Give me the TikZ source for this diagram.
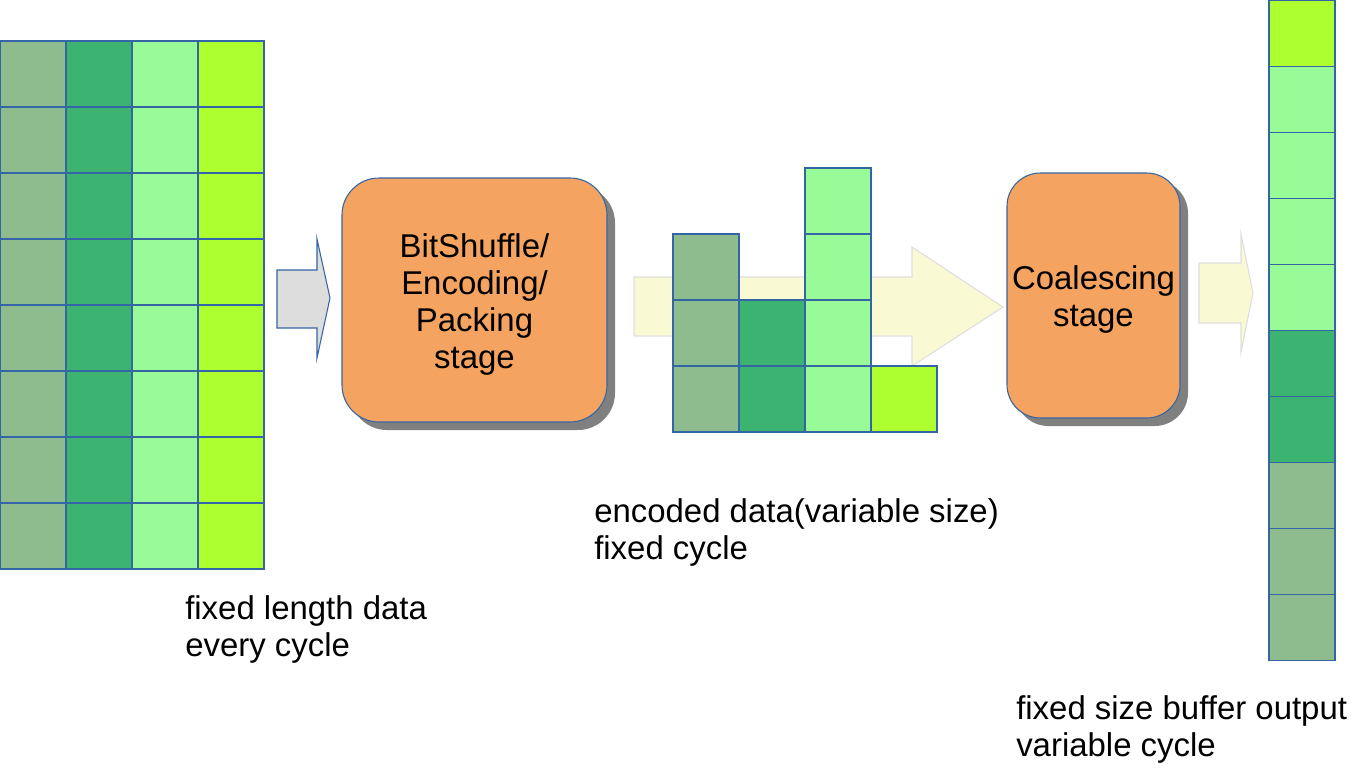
\documentclass[tikz,border=0pt]{standalone}
\usepackage{fontspec}
\setmainfont{Liberation Sans}
\definecolor{cA}{HTML}{8FBC8F}
\definecolor{cB}{HTML}{3CB371}
\definecolor{cC}{HTML}{98FB98}
\definecolor{cD}{HTML}{ADFF2F}
\definecolor{edge}{HTML}{3465A4}
\definecolor{stagefill}{HTML}{F4A460}
\definecolor{shadowc}{HTML}{808080}
\definecolor{graya}{HTML}{DDDDDD}
\definecolor{yarrow}{HTML}{F9F9D3}
\definecolor{yedge}{HTML}{DEDEDE}
\tikzset{
  cell/.style={draw=edge, line width=0.8pt},
  stagebox/.style={draw=edge, fill=stagefill, line width=0.8pt},
  stageshadow/.style={fill=shadowc, draw=none},
  lbl/.style={inner sep=0pt, align=left, font=\fontsize{24.7}{27.75}\selectfont},
  boxtext/.style={inner sep=0pt, align=center, font=\fontsize{24.7}{27.75}\selectfont},
  grayarrow/.style={draw=edge, fill=graya, line width=0.8pt, line join=miter},
  yelarrow/.style={draw=yedge, fill=yarrow, line width=0.8pt, line join=miter},
}
\begin{document}
\begin{tikzpicture}[x=0.75pt,y=-0.75pt]
\useasboundingbox (0,0) rectangle (1360,769);
% input grid
\foreach \r in {0,...,7}{
  \foreach \c/\col in {0/cA,1/cB,2/cC,3/cD}{
    \filldraw[cell, fill=\col] ({\c*66},{41+\r*66}) rectangle ++(66,66);
  }
}
% gray arrow
\draw[grayarrow] (277,270) -- (317,270) -- (317,239) -- (330,298) -- (317,358) -- (317,328) -- (277,328) -- cycle;
% stage 1
\fill[stageshadow, rounded corners=27.75pt] (350,186) rectangle (615,430);
\filldraw[stagebox, rounded corners=27.75pt] (342,178) rectangle (607,422);
\node[boxtext] (s1) at (474.5,304) {BitShuffle/\\Encoding/\\Packing\\stage};
% yellow arrow middle
\draw[yelarrow] (634,277) -- (912,277) -- (912,247) -- (1003,307) -- (912,366) -- (912,336) -- (634,336) -- cycle;
% encoded cells
\foreach \y in {234,300,366}{\filldraw[cell, fill=cA] (673,\y) rectangle ++(66,66);}
\foreach \y in {300,366}{\filldraw[cell, fill=cB] (739,\y) rectangle ++(66,66);}
\foreach \y in {168,234,300,366}{\filldraw[cell, fill=cC] (805,\y) rectangle ++(66,66);}
\filldraw[cell, fill=cD] (871,366) rectangle ++(66,66);
% stage 2
\fill[stageshadow, rounded corners=25pt] (1015,180) rectangle (1188,426);
\filldraw[stagebox, rounded corners=25pt] (1007,173) rectangle (1180,418);
\node[boxtext] (s2) at (1093.5,299) {Coalescing\\stage};
% right yellow arrow
\draw[yelarrow] (1199,263) -- (1241,263) -- (1241,234) -- (1253,293) -- (1241,352) -- (1241,323) -- (1199,323) -- cycle;
% output column
\foreach \i/\col in {0/cD,1/cC,2/cC,3/cC,4/cC,5/cB,6/cB,7/cA,8/cA,9/cA}{
  \filldraw[cell, fill=\col] (1269,{0.5+\i*66}) rectangle ++(66,66);
}
% labels
\node[lbl, anchor=west] (l1) at (185,629) {fixed length data\\every cycle};
\node[lbl, anchor=west] (l2) at (594,532) {encoded data(variable size)\\fixed cycle};
\node[lbl, anchor=west] (l3) at (1016,729) {fixed size buffer output\\variable cycle};
\end{tikzpicture}
\end{document}
